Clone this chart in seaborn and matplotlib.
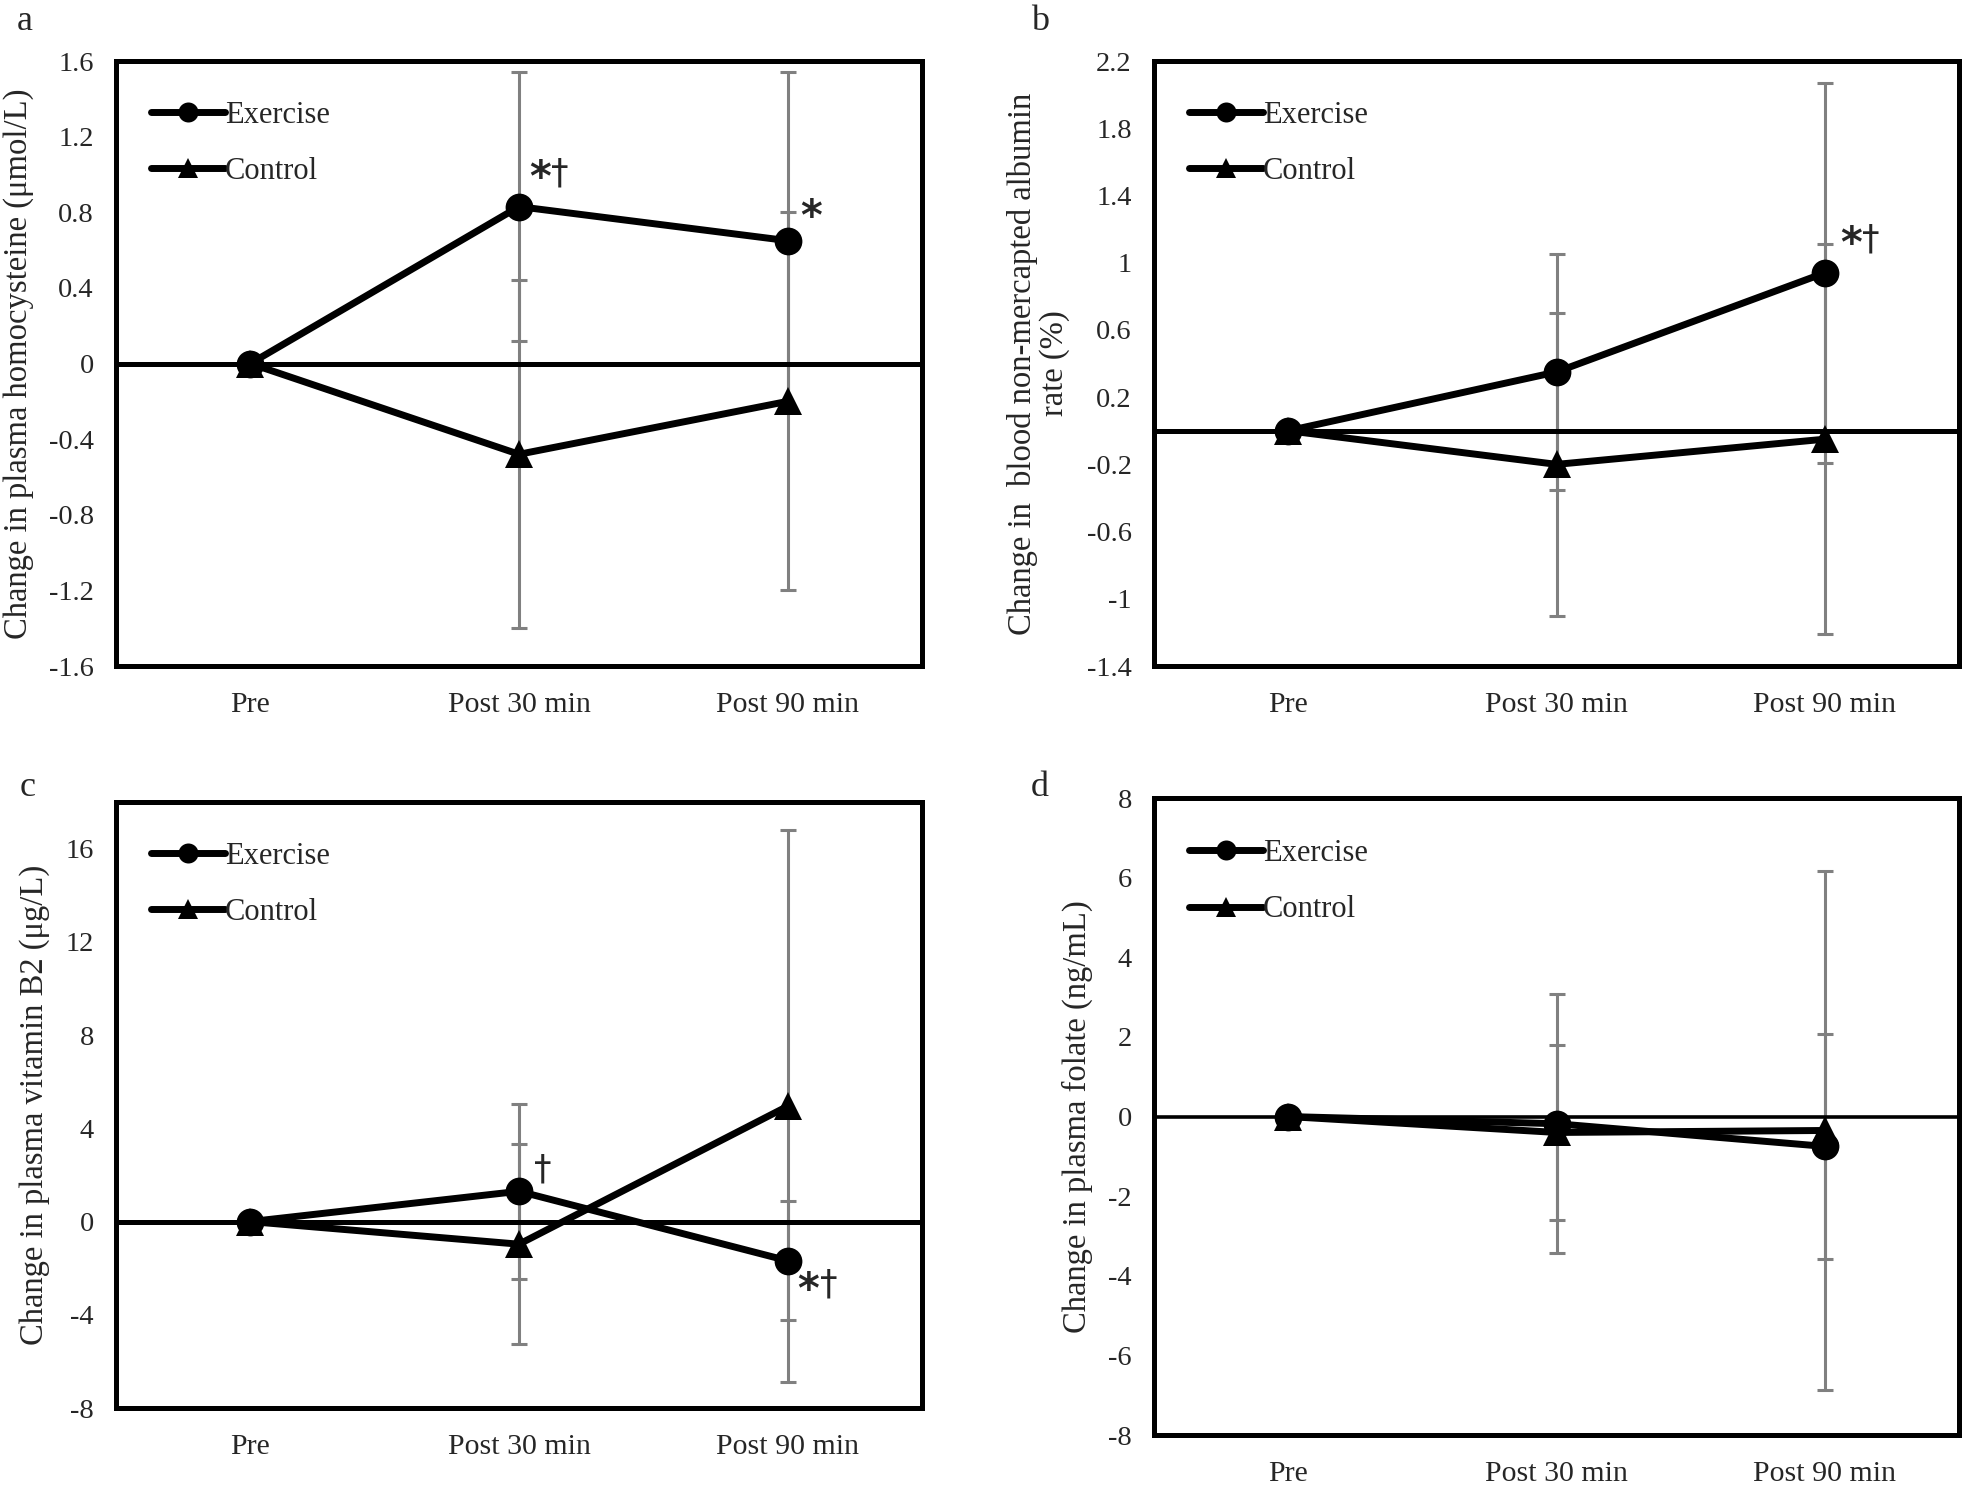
import numpy as np
import pandas as pd
import matplotlib
matplotlib.use('Agg')
import matplotlib.pyplot as plt
import seaborn as sns

sns.set_style('white')
plt.rcParams['font.family'] = ['Liberation Serif', 'DejaVu Serif']

# data
times = ['Pre', 'Post 30 min', 'Post 90 min']

hcy_ex = [0, 0.83, 0.65]
hcy_ex_sd = [0, 0.71, 0.89]
hcy_ct = [0, -0.48, -0.20]
hcy_ct_sd = [0, 0.92, 1.00]

alb_ex = [0, 0.35, 0.94]
alb_ex_sd = [0, 0.70, 1.13]
alb_ct = [0, -0.20, -0.05]
alb_ct_sd = [0, 0.90, 1.16]

b2_ex = [0, 1.30, -1.68]
b2_ex_sd = [0, 3.75, 2.55]
b2_ct = [0, -0.97, 4.95]
b2_ct_sd = [0, 4.30, 11.85]

fol_ex = [0, -0.18, -0.75]
fol_ex_sd = [0, 3.25, 2.82]
fol_ct = [0, -0.40, -0.35]
fol_ct_sd = [0, 2.20, 6.52]

fig = plt.figure(figsize=(19.63, 14.93), dpi=100)
ax_a = fig.add_axes([0.0591, 0.5539, 0.4106, 0.4052])
ax_b = fig.add_axes([0.5879, 0.5539, 0.4101, 0.4052])
ax_c = fig.add_axes([0.0591, 0.0569, 0.4106, 0.4059])
ax_d = fig.add_axes([0.5879, 0.0388, 0.4101, 0.4267])

xpos = np.arange(len(times))


def draw_panel(ax, ex, ex_sd, ct, ct_sd, ylim, yticks, ylabel, label_x, zero_lw=3.6):
    # gray error bars sit behind the lines
    for vals, sd in [(ex, ex_sd), (ct, ct_sd)]:
        ax.errorbar(xpos[1:], vals[1:], yerr=sd[1:], fmt='none', ecolor='#808080',
                    elinewidth=2.2, capsize=6, capthick=2.2, zorder=1)
    ax.axhline(0, color='black', lw=zero_lw, zorder=2)
    df = pd.DataFrame({'x': np.concatenate([xpos, xpos]),
                       'y': list(ex) + list(ct),
                       'group': ['Exercise'] * 3 + ['Control'] * 3})
    sns.lineplot(data=df, x='x', y='y', style='group', markers={'Exercise': 'o', 'Control': '^'},
                 dashes=False, color='black', lw=5, markersize=20, markeredgewidth=0,
                 ax=ax, zorder=3, legend=True)
    ax.set_xlim(-0.5, 2.5)
    ax.set_ylim(*ylim)
    ax.set_yticks(yticks)
    ax.set_yticklabels(['%g' % (round(t, 2) + 0.0) for t in yticks])
    ax.set_xticks(xpos)
    ax.set_xticklabels(times)
    ax.tick_params(axis='both', length=0)
    ax.tick_params(axis='y', labelsize=20.5, pad=16)
    ax.tick_params(axis='x', labelsize=21.5, pad=19)
    ax.set_xlabel('')
    ax.set_ylabel(ylabel, fontsize=23.5, linespacing=1.05)
    ax.yaxis.set_label_coords(label_x, 0.5)
    for s in ax.spines.values():
        s.set_linewidth(3.6)
        s.set_color('black')
        s.set_visible(True)
    leg = ax.legend(loc='upper left', bbox_to_anchor=(0.025, 0.96), frameon=False,
                    fontsize=22, handlelength=2.4, handletextpad=0.0, labelspacing=0.9,
                    borderpad=0, markerscale=0.72)
    for line in leg.get_lines():
        line.set_linewidth(5)


draw_panel(ax_a, hcy_ex, hcy_ex_sd, hcy_ct, hcy_ct_sd, (-1.6, 1.6), np.arange(-1.6, 1.61, 0.4),
           'Change in plasma homocysteine (μmol/L)', -0.102)
draw_panel(ax_b, alb_ex, alb_ex_sd, alb_ct, alb_ct_sd, (-1.4, 2.2), np.arange(-1.4, 2.21, 0.4),
           'Change in  blood non-mercapted albumin\nrate (%)', -0.104)
draw_panel(ax_c, b2_ex, b2_ex_sd, b2_ct, b2_ct_sd, (-8, 18), np.arange(-8, 17, 4),
           'Change in plasma vitamin B2 (μg/L)', -0.082)
draw_panel(ax_d, fol_ex, fol_ex_sd, fol_ct, fol_ct_sd, (-8, 8), np.arange(-8, 9, 2),
           'Change in plasma folate (ng/mL)', -0.076, zero_lw=2.6)

# significance marks: bold star, thin dagger
star_kw = dict(textcoords='offset points', fontsize=30, family='DejaVu Sans',
               fontweight='bold', ha='left', va='center')
dag_kw = dict(textcoords='offset points', fontsize=25, family='DejaVu Sans',
              ha='left', va='center')
ax_a.annotate('*', (1, hcy_ex[1]), xytext=(7, 20), **star_kw)
ax_a.annotate('†', (1, hcy_ex[1]), xytext=(23, 24), **dag_kw)
ax_a.annotate('*', (2, hcy_ex[2]), xytext=(9, 16), **star_kw)
ax_b.annotate('*', (2, alb_ex[2]), xytext=(11, 20), **star_kw)
ax_b.annotate('†', (2, alb_ex[2]), xytext=(27, 24), **dag_kw)
ax_c.annotate('†', (1, b2_ex[1]), xytext=(11, 16), **dag_kw)
ax_c.annotate('*', (2, b2_ex[2]), xytext=(7, -22), **star_kw)
ax_c.annotate('†', (2, b2_ex[2]), xytext=(23, -17), **dag_kw)

# panel letters
for lab, (x, y) in zip('abcd', [(25, 22), (1040, 22), (28, 788), (1040, 788)]):
    fig.text(x / 1963, 1 - y / 1493, lab, fontsize=26, ha='center', va='center')

fig.savefig('out.png', dpi=100)
